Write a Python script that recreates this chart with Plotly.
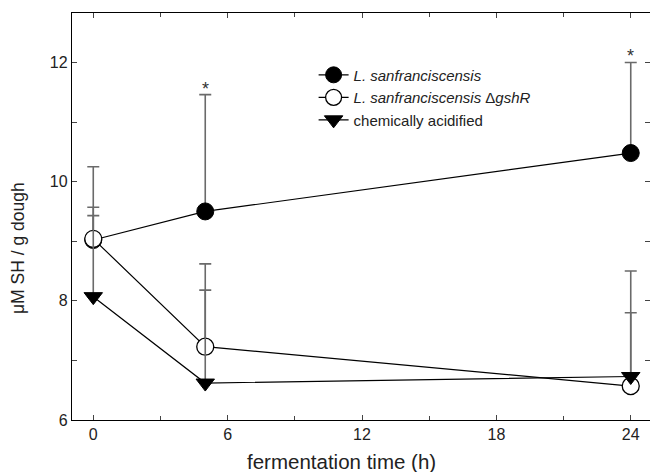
import plotly.graph_objects as go

time_h = [0, 5, 24]
ls_vals = [9.02, 9.50, 10.48]
ls_err = [0.55, 1.96, 1.52]
gsh_vals = [9.04, 7.23, 6.57]
gsh_err = [1.21, 1.39, 1.93]
chem_vals = [8.07, 6.62, 6.73]
chem_err = [1.36, 1.56, 1.07]
star_idx = [1, 2]  # significant points of L. sanfranciscensis

x_ticks = [0, 6, 12, 18, 24]
y_ticks = [6, 8, 10, 12]
x_title = "fermentation time (h)"
y_title = "μM SH / g dough"

FONT = "Liberation Sans, Arial, sans-serif"
ERRC = "#6a6a6a"

def err(arr):
    return dict(type="data", array=arr, symmetric=False, arrayminus=[0]*len(arr),
                color=ERRC, thickness=1.6, width=6)

fig = go.Figure()
fig.add_trace(go.Scatter(
    x=time_h, y=ls_vals, mode="lines+markers", name="<i>L. sanfranciscensis</i>",
    line=dict(color="black", width=1.2),
    marker=dict(symbol="circle", size=17, color="black", line=dict(color="black", width=1)),
    error_y=err(ls_err)))
fig.add_trace(go.Scatter(
    x=time_h, y=gsh_vals, mode="lines+markers",
    name="<i>L. sanfranciscensis</i> Δ<i>gshR</i>",
    line=dict(color="black", width=1.2),
    marker=dict(symbol="circle", size=17, color="white", line=dict(color="black", width=1.3)),
    error_y=err(gsh_err)))
fig.add_trace(go.Scatter(
    x=time_h, y=chem_vals, mode="lines+markers", name="chemically acidified",
    line=dict(color="black", width=1.2),
    marker=dict(symbol="triangle-down", size=16, color="black", line=dict(color="black", width=1)),
    error_y=err(chem_err)))
# helper trace for right-side mirror ticks
fig.add_trace(go.Scatter(x=[time_h[0]], y=[ls_vals[0]], yaxis="y2", mode="markers",
                         marker=dict(opacity=0), showlegend=False, hoverinfo="skip"))

for i in star_idx:
    fig.add_annotation(x=time_h[i], y=ls_vals[i] + ls_err[i], text="*", showarrow=False,
                       yanchor="bottom", yshift=-6, font=dict(family=FONT, size=18, color="#333"))

# axis titles placed as annotations to match the reference placement
fig.add_annotation(xref="paper", yref="paper", x=0.467, y=-0.103, text=x_title,
                   showarrow=False, xanchor="center", yanchor="middle",
                   font=dict(family=FONT, size=20.5, color="#222"))
fig.add_annotation(xref="paper", yref="paper", x=-0.0934, y=0.4226, text=y_title,
                   showarrow=False, textangle=-90, xanchor="center", yanchor="middle",
                   font=dict(family=FONT, size=17.5, color="#222"))

yrange = [6, 12.83]
fig.update_layout(
    width=650, height=472, margin=dict(l=72, r=0, t=13, b=52),
    paper_bgcolor="white", plot_bgcolor="white",
    font=dict(family=FONT, size=16, color="#222"),
    xaxis=dict(range=[-0.95, 24.86], tickvals=x_ticks, ticks="inside", ticklen=5,
               tickcolor="#444", showline=True, linecolor="black", linewidth=1.3, mirror="ticks",
               showgrid=False, zeroline=False,
               minor=dict(dtick=3, tick0=0, ticks="inside", ticklen=4, tickcolor="#444"),
               tickfont=dict(size=16)),
    yaxis=dict(range=yrange, tickvals=y_ticks, ticks="inside", ticklen=5, tickcolor="#444",
               showline=True, linecolor="black", linewidth=1.3, showgrid=False, zeroline=False,
               minor=dict(dtick=1, tick0=0, ticks="inside", ticklen=5, tickcolor="#444"),
               tickfont=dict(size=16)),
    yaxis2=dict(range=yrange, overlaying="y", side="right", tickvals=y_ticks, ticks="inside",
                ticklen=5, tickcolor="#444", showticklabels=False, showline=False,
                showgrid=False, zeroline=False,
                minor=dict(dtick=1, tick0=0, ticks="inside", ticklen=5, tickcolor="#444")),
    legend=dict(x=0.418, y=0.888, xanchor="left", yanchor="top", bgcolor="rgba(0,0,0,0)",
                font=dict(size=15, color="#222"), tracegroupgap=0, itemwidth=30),
    showlegend=True,
)

fig.write_html("out.html")
